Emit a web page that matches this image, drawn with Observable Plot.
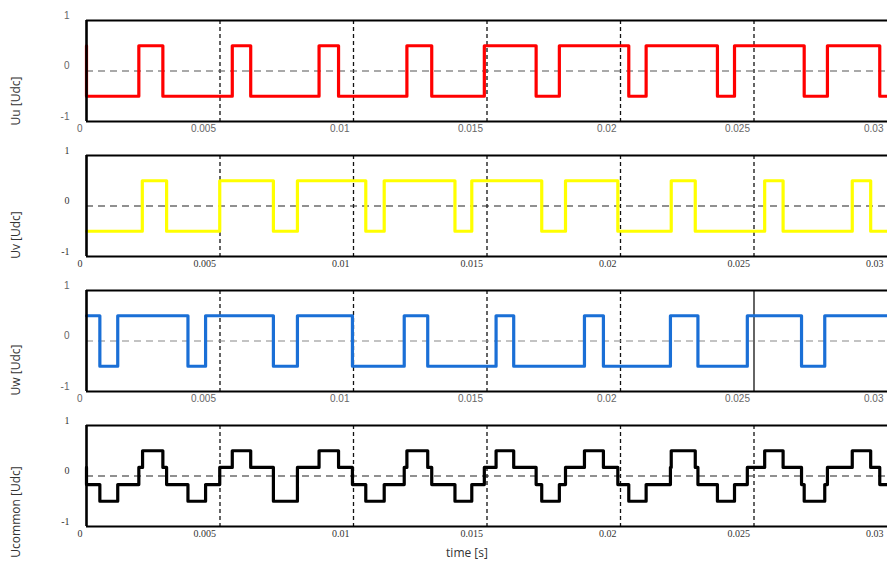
<!DOCTYPE html>
<html><head><meta charset="utf-8">
<script src="https://cdn.jsdelivr.net/npm/d3@7"></script>
<script src="https://cdn.jsdelivr.net/npm/@observablehq/plot@0.6"></script>
<style>body{margin:0;background:#fff} #chart svg{display:block;background:#fff}</style>
</head><body><div id="chart"></div>
<script>
const xTicks = [0, 0.005, 0.01, 0.015, 0.02, 0.025, 0.03];
const yTicks = [-1, 0, 1];
const panelLabels = ["Uu [Udc]", "Uv [Udc]", "Uw [Udc]", "Ucommon [Udc]"];
const xLabel = "time [s]";

const uuTime  = [0, 0, 0.00196, 0.00286, 0.00546, 0.00615, 0.00871, 0.00944, 0.0120, 0.01293, 0.0149, 0.01684, 0.01771, 0.02031, 0.02096, 0.02363, 0.02427, 0.02688, 0.02775, 0.02971, 0.03];
const uuValue = [0.5, -0.5, 0.5, -0.5, 0.5, -0.5, 0.5, -0.5, 0.5, -0.5, 0.5, -0.5, 0.5, -0.5, 0.5, -0.5, 0.5, -0.5, 0.5, -0.5, -0.5];

const uvTime  = [0, 0.00209, 0.0030, 0.00499, 0.0070, 0.0079, 0.01046, 0.01115, 0.0138, 0.01443, 0.01705, 0.01794, 0.0199, 0.0219, 0.0228, 0.0254, 0.02609, 0.02868, 0.02937, 0.03];
const uvValue = [-0.5, 0.5, -0.5, 0.5, -0.5, 0.5, -0.5, 0.5, -0.5, 0.5, -0.5, 0.5, -0.5, 0.5, -0.5, 0.5, -0.5, 0.5, -0.5, -0.5];

const uwTime  = [0, 0.0005, 0.00117, 0.0038, 0.00446, 0.0070, 0.0079, 0.00996, 0.0119, 0.01278, 0.01534, 0.0160, 0.01865, 0.01936, 0.02187, 0.0229, 0.02475, 0.02678, 0.02765, 0.03];
const uwValue = [0.5, -0.5, 0.5, -0.5, 0.5, -0.5, 0.5, -0.5, 0.5, -0.5, 0.5, -0.5, 0.5, -0.5, 0.5, -0.5, 0.5, -0.5, 0.5, 0.5];

const ucTime  = [0, 0, 0.0005, 0.00117, 0.00196, 0.0021, 0.00286, 0.0030, 0.0038, 0.00446, 0.00499, 0.00546, 0.00615, 0.0070, 0.0079, 0.00871, 0.00944, 0.00996, 0.01046, 0.01115, 0.0119, 0.0120, 0.01278, 0.01293, 0.0138, 0.01443, 0.0149, 0.01534, 0.0160, 0.01684, 0.01705, 0.01771, 0.01794, 0.01865, 0.01936, 0.0199, 0.02031, 0.02096, 0.02187, 0.0219, 0.0228, 0.0229, 0.02363, 0.02427, 0.02475, 0.0254, 0.02609, 0.02678, 0.02688, 0.02765, 0.02775, 0.02868, 0.02937, 0.02971, 0.03];
const ucValue = [0.17, -0.17, -0.5, -0.17, 0.17, 0.5, 0.17, -0.17, -0.5, -0.17, 0.17, 0.5, 0.17, -0.5, 0.17, 0.5, 0.17, -0.17, -0.5, -0.17, 0.17, 0.5, 0.17, -0.17, -0.5, -0.17, 0.17, 0.5, 0.17, -0.17, -0.5, -0.17, 0.17, 0.5, 0.17, -0.17, -0.5, -0.17, 0.17, 0.5, 0.17, -0.17, -0.5, -0.17, 0.17, 0.5, 0.17, -0.17, -0.5, -0.17, 0.17, 0.5, 0.17, -0.17, -0.17];

function panel({time, value, color, label, labelDy, tickFont, tickColor, zeroColor, solidGrid, last}) {
  const rows = time.map((t, i) => ({t, v: value[i]}));
  const height = last ? 156 : 135;
  const inner = xTicks.filter(d => d > 0 && d < 0.03);
  const marks = [
    Plot.ruleX(inner.filter(d => d !== solidGrid), {stroke: "#111", strokeWidth: 1.3, strokeDasharray: "4,3"}),
    Plot.ruleX(inner.filter(d => d === solidGrid), {stroke: "#111", strokeWidth: 1.3}),
    Plot.ruleY([0], {stroke: zeroColor, strokeWidth: 1.1, strokeDasharray: "7,5"}),
    Plot.line(rows, {x: "t", y: "v", curve: "step-after", stroke: color, strokeWidth: 3.2}),
    Plot.ruleY([-1, 1], {stroke: "#000", strokeWidth: 2}),
    Plot.ruleX([0], {stroke: "#000", strokeWidth: 2.6}),
    Plot.axisX({ticks: xTicks, tickSize: 0, tickPadding: 3, textAnchor: "end", dx: -4, tickFormat: d => String(d), fontSize: 10, fontFamily: tickFont, fill: tickColor, label: null}),
    Plot.axisY({ticks: yTicks, tickSize: 0, tickPadding: 17, dy: -5, tickFormat: d => String(d), fontSize: 10, fontFamily: tickFont, fill: tickColor, label: null}),
    Plot.text([label], {text: d => d, frameAnchor: "left", textAnchor: "middle", lineAnchor: "middle", dx: -70, dy: labelDy, rotate: -90, fontSize: 12, fontFamily: "Open Sans", fill: "#333"})
  ];
  if (last) marks.push(Plot.text([xLabel], {text: d => d, frameAnchor: "bottom", textAnchor: "middle", lineAnchor: "middle", dx: -20, dy: 27, fontSize: 12, fontFamily: "Open Sans", fill: "#333"}));
  return Plot.plot({
    width: 887, height,
    marginLeft: 86, marginRight: 0, marginTop: 20, marginBottom: height - 121,
    x: {domain: [0, 0.03], axis: null},
    y: {domain: [-1, 1], axis: null},
    style: {fontFamily: tickFont, background: "#fff", overflow: "visible"},
    marks
  });
}

const chart = document.getElementById("chart");
chart.append(panel({time: uuTime, value: uuValue, color: "#ff0000", label: panelLabels[0], labelDy: 30, tickFont: "Liberation Sans", tickColor: "#666", zeroColor: "#555"}));
chart.append(panel({time: uvTime, value: uvValue, color: "#ffff00", label: panelLabels[1], labelDy: 29, tickFont: "Liberation Serif", tickColor: "#333", zeroColor: "#222"}));
chart.append(panel({time: uwTime, value: uwValue, color: "#1a6fd6", label: panelLabels[2], labelDy: 29, tickFont: "Liberation Sans", tickColor: "#666", zeroColor: "#888", solidGrid: 0.025}));
chart.append(panel({time: ucTime, value: ucValue, color: "#000000", label: panelLabels[3], labelDy: 36, tickFont: "Liberation Serif", tickColor: "#333", zeroColor: "#222", last: true}));
</script>
</body></html>
